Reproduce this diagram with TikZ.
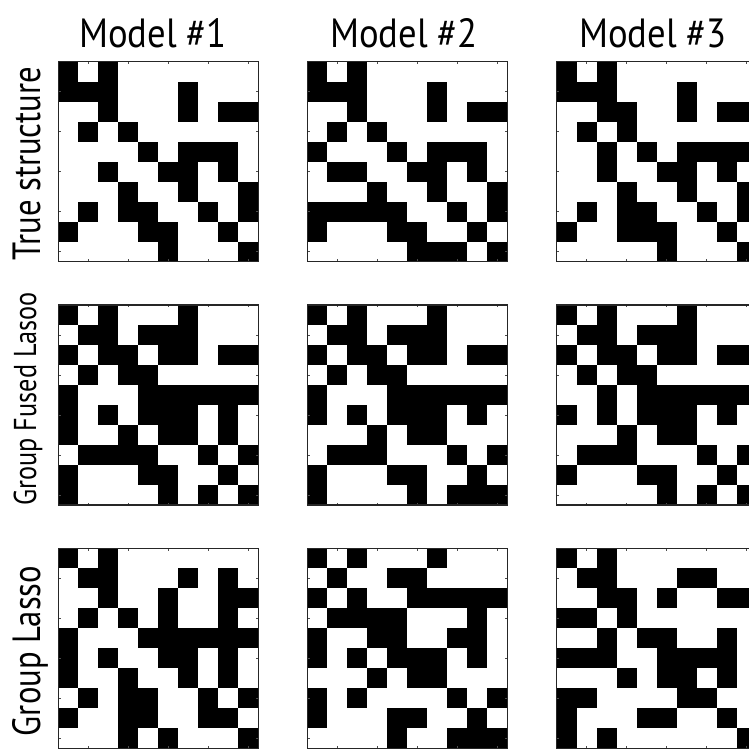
\documentclass[tikz,border=0pt]{standalone}
\usepackage{fontspec}
\setmainfont{PT Sans}
\usetikzlibrary{positioning}

\tikzset{
  cellfill/.style={fill=black},
  axisbox/.style={draw=black!85, line width=1.1pt},
  axistick/.style={draw=black!70, line width=0.5pt},
  collabel/.style={anchor=base, font=\fontsize{29}{32}\selectfont, xscale=0.9},
  rowlabel/.style={anchor=base, rotate=90, font=\fontsize{28}{32}\selectfont, xscale=0.83},
  rowlabelsmall/.style={anchor=base, rotate=90, font=\fontsize{22.5}{25}\selectfont, xscale=0.83}
}

% one 10x10 pattern, rows from the top, 1 = black cell
\newcommand{\cellpattern}[1]{%
  \foreach \cellrow [count=\ri from 0] in {#1}{%
    \foreach \bit [count=\ci from 0] in \cellrow{%
      \ifnum\bit=1 \fill[cellfill] (\ci,\ri) rectangle ++(1,1); \fi
    }
  }
  % ticks on all four sides
  \foreach \t in {1.5,3.5,5.5,7.5,9.5}{
    \draw[axistick] (\t,0) -- ++(0,0.12);
    \draw[axistick] (\t,10) -- ++(0,-0.12);
    \draw[axistick] (0,\t) -- ++(0.12,0);
    \draw[axistick] (10,\t) -- ++(-0.12,0);
  }
  \draw[axisbox] (0,0) rectangle (10,10);
}

\begin{document}
\begin{tikzpicture}[x=0.5cm, y=-0.5cm]

\fill[white] (0,0) rectangle (37.45,37.45);
\useasboundingbox (0,0) rectangle (37.45,37.45);
\clip (0,0) rectangle (37.45,37.45);

% column titles
\node[collabel] (m1) at (7.65,2.35) {Model \#1};
\node[collabel] (m2) at (20.2,2.35) {Model \#2};
\node[collabel] (m3) at (32.65,2.35) {Model \#3};

% row titles
\node[rowlabel] (ts) at (2.0,8.18) {True structure};
\node[rowlabelsmall] (gfl) at (1.8,19.95) {Group Fused Lasoo};
\node[rowlabel] (gl) at (2.0,32.55) {Group Lasso};

% true structure
\begin{scope}[shift={(2.92,3.08)}]
\cellpattern{
{1,0,1,0,0,0,0,0,0,0},
{1,1,1,0,0,0,1,0,0,0},
{0,0,1,0,0,0,1,0,1,1},
{0,1,0,1,0,0,0,0,0,0},
{0,0,0,0,1,0,1,1,1,0},
{0,0,1,0,0,1,1,0,1,0},
{0,0,0,1,0,0,1,0,0,1},
{0,1,0,1,1,0,0,1,0,1},
{1,0,0,0,1,1,0,0,1,0},
{0,0,0,0,0,1,0,0,0,1}}
\end{scope}

\begin{scope}[shift={(15.37,3.08)}]
\cellpattern{
{1,0,1,0,0,0,0,0,0,0},
{1,1,1,0,0,0,1,0,0,0},
{0,0,1,0,0,0,1,0,1,1},
{0,1,0,1,0,0,0,0,0,0},
{1,0,0,0,1,0,1,1,1,0},
{0,1,1,0,0,1,1,0,1,0},
{0,0,0,1,0,0,1,0,0,1},
{1,1,1,1,1,0,0,1,0,1},
{1,0,0,0,1,1,0,0,1,0},
{0,0,0,0,0,1,1,1,0,1}}
\end{scope}

\begin{scope}[shift={(27.83,3.08)}]
\cellpattern{
{1,0,1,0,0,0,0,0,0,0},
{1,1,1,0,0,0,1,0,0,0},
{0,0,1,1,0,0,1,0,1,1},
{0,1,0,1,0,0,0,0,0,0},
{0,0,1,0,1,0,1,1,1,1},
{0,0,1,0,0,1,1,0,1,0},
{0,0,0,1,0,0,1,0,0,1},
{0,1,0,1,1,0,0,1,0,1},
{1,0,0,1,1,1,0,0,1,0},
{0,0,0,0,0,1,0,0,0,1}}
\end{scope}

% group fused lasso
\begin{scope}[shift={(2.92,15.25)}]
\cellpattern{
{1,0,1,0,0,0,1,0,0,0},
{0,1,1,0,1,1,1,0,0,0},
{1,0,1,1,0,1,1,0,1,1},
{0,1,0,1,1,0,0,0,0,0},
{1,0,0,0,1,1,1,1,1,1},
{1,0,1,0,1,1,1,0,1,0},
{1,0,0,1,0,1,1,0,1,0},
{0,1,1,1,1,0,0,1,0,1},
{1,0,0,0,1,1,0,0,1,0},
{1,0,0,0,0,1,0,1,0,1}}
\end{scope}

\begin{scope}[shift={(15.37,15.25)}]
\cellpattern{
{1,0,1,0,0,0,1,0,0,0},
{0,1,1,0,1,1,1,0,0,0},
{1,0,1,1,0,1,1,0,1,1},
{0,1,0,1,1,0,0,0,0,0},
{1,0,0,0,1,1,1,1,1,1},
{1,0,1,0,1,1,1,0,1,0},
{0,0,0,1,0,1,1,0,0,0},
{0,1,1,1,0,0,0,1,0,1},
{1,0,0,0,1,1,0,0,1,0},
{1,0,0,0,0,1,0,1,1,1}}
\end{scope}

\begin{scope}[shift={(27.83,15.25)}]
\cellpattern{
{1,0,1,0,0,0,1,0,0,0},
{0,1,1,0,1,1,1,0,0,0},
{1,0,1,1,0,1,1,0,1,1},
{0,1,0,1,1,0,0,0,0,0},
{0,0,1,0,1,1,1,1,1,1},
{1,0,1,0,1,1,1,0,1,0},
{0,0,0,1,0,1,1,0,0,0},
{0,1,1,1,0,0,0,1,0,1},
{1,0,0,0,1,1,0,0,1,0},
{0,0,0,0,0,1,0,1,0,1}}
\end{scope}

% group lasso
\begin{scope}[shift={(2.92,27.42)}]
\cellpattern{
{1,0,1,0,0,0,0,0,0,0},
{0,1,1,0,0,0,1,0,1,0},
{0,0,1,0,0,1,0,0,1,1},
{0,1,0,1,0,1,0,0,1,0},
{1,0,0,0,1,1,1,1,1,1},
{1,0,1,0,0,1,1,0,1,0},
{1,0,0,1,0,0,1,0,1,0},
{0,1,0,1,1,0,0,1,0,1},
{1,0,0,1,1,0,0,1,1,0},
{0,0,0,1,0,1,0,0,0,1}}
\end{scope}

\begin{scope}[shift={(15.37,27.42)}]
\cellpattern{
{1,0,1,0,0,0,1,0,0,0},
{0,1,0,0,1,1,0,0,0,0},
{1,0,1,0,0,1,1,1,1,1},
{0,1,1,1,1,0,0,0,1,0},
{1,0,0,1,1,0,0,1,1,0},
{1,0,1,0,1,1,1,0,1,0},
{0,0,0,1,0,1,1,0,0,0},
{1,0,1,0,0,0,0,1,0,1},
{1,0,0,0,1,1,0,0,1,0},
{0,0,0,0,1,0,0,1,1,1}}
\end{scope}

\begin{scope}[shift={(27.83,27.42)}]
\cellpattern{
{1,0,1,0,0,0,0,0,0,0},
{0,1,1,0,0,0,1,1,0,0},
{0,0,1,1,0,1,0,0,1,1},
{1,1,0,1,0,0,0,0,0,0},
{0,0,1,0,1,1,0,0,1,0},
{1,1,1,0,0,1,1,1,1,0},
{0,0,0,1,0,1,1,0,1,0},
{1,1,0,0,0,0,1,1,0,0},
{1,0,0,0,1,1,0,0,1,0},
{1,0,1,0,0,0,0,0,0,1}}
\end{scope}

\end{tikzpicture}
\end{document}
